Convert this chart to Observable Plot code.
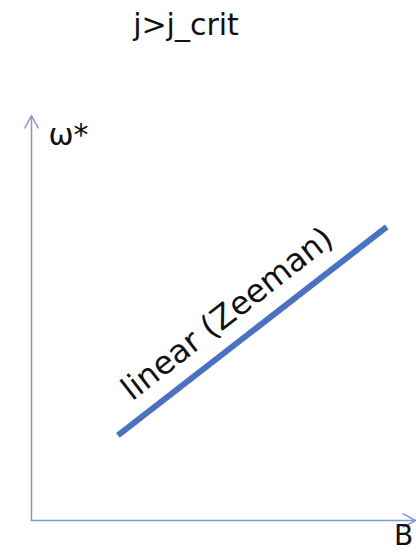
<!DOCTYPE html>
<html>
<head>
<meta charset="utf-8">
<script src="https://cdn.jsdelivr.net/npm/d3@7"></script>
<script src="https://cdn.jsdelivr.net/npm/@observablehq/plot@0.6"></script>
<style>
  html, body { margin: 0; padding: 0; background: #fff; }
  #title { width: 372px; height: 50px; line-height: 50px; text-align: center;
           font-family: "DejaVu Sans", sans-serif; font-size: 30px; color: #111; }
  svg { display: block; }
</style>
</head>
<body>
<div id="title">j&gt;j_crit</div>
<div id="chart"></div>
<script>
// Axis extents (data units)
const xDomain = [0, 10];
const yDomain = [0, 10];

// Zeeman line: field B vs omega*
const fieldB = [2.25, 9.25];
const omegaStar = [2.1, 7.25];

// Annotation labels (data units)
const labelText = ["ω*", "B", "linear (Zeeman)"];
const labelB = [0.44, 9.69, 5.1];
const labelW = [9.5, -0.38, 5.1];

const lineData = fieldB.map((b, i) => ({B: b, w: omegaStar[i]}));
const axisArrows = [
  {x1: xDomain[0], y1: yDomain[0], x2: xDomain[0], y2: yDomain[1]},
  {x1: xDomain[0], y1: yDomain[0], x2: xDomain[1], y2: yDomain[0]}
];
const labels = labelText.map((t, i) => ({t, B: labelB[i], w: labelW[i]}));

const axisColor = "#8197cf";
const lineColor = "#4a72c0";

const chart = Plot.plot({
  width: 416,
  height: 504,
  marginLeft: 31,
  marginRight: 1,
  marginTop: 65,
  marginBottom: 34,
  x: {domain: xDomain, axis: null},
  y: {domain: yDomain, axis: null},
  style: {fontFamily: "DejaVu Sans, sans-serif", background: "#fff", overflow: "visible"},
  marks: [
    Plot.arrow(axisArrows, {x1: "x1", y1: "y1", x2: "x2", y2: "y2",
      stroke: axisColor, strokeWidth: 1.5, headLength: 14, headAngle: 56}),
    Plot.line(lineData, {x: "B", y: "w", stroke: lineColor, strokeWidth: 6, strokeLinecap: "butt"}),
    Plot.text(labels.slice(0, 1), {x: "B", y: "w", text: "t", textAnchor: "start",
      fontSize: 30, fill: "#111"}),
    Plot.text(labels.slice(1, 2), {x: "B", y: "w", text: "t", textAnchor: "middle",
      fontSize: 28, fill: "#111"}),
    Plot.text(labels.slice(2, 3), {x: "B", y: "w", text: "t", textAnchor: "middle",
      rotate: -38, fontSize: 32, fill: "#111"})
  ]
});
document.getElementById("chart").appendChild(chart);
</script>
</body>
</html>
